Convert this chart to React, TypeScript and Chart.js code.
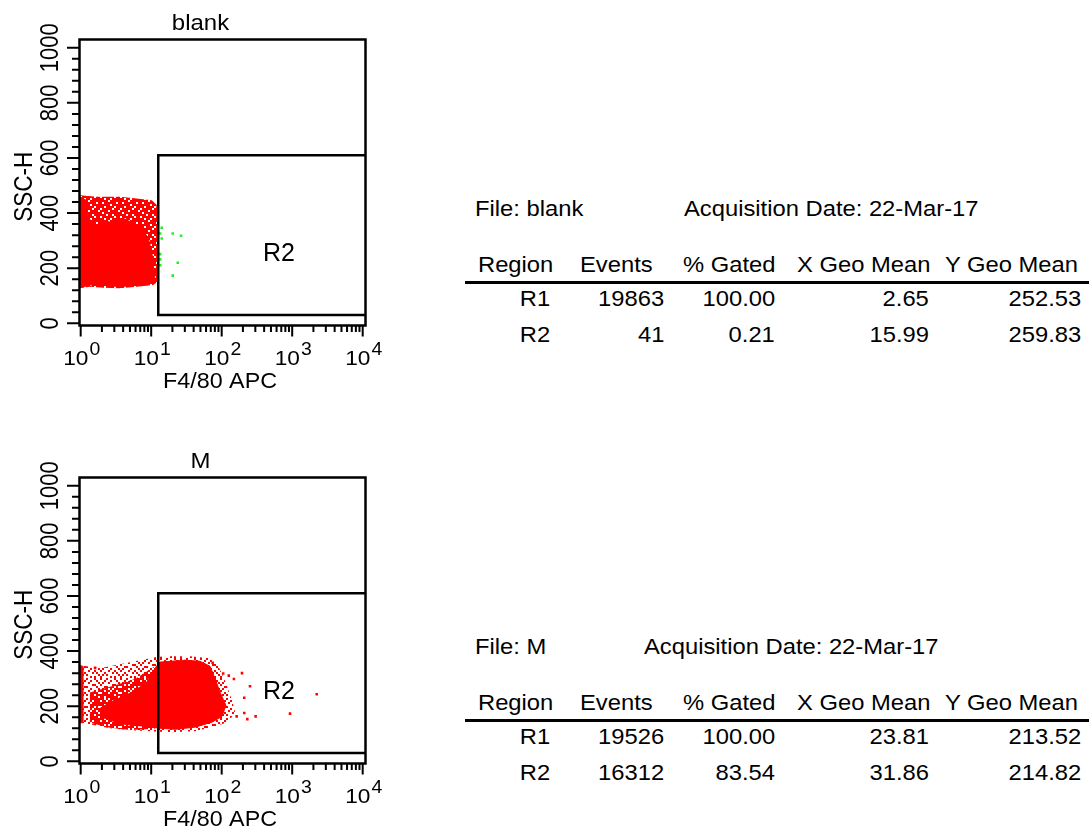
import React, { useEffect, useRef } from "react";
import { Chart, registerables } from "chart.js";
Chart.register(...registerables);

// ---------------- data ----------------
const panelTitles = ["blank", "M"];
const xAxisTitle = "F4/80 APC";
const yAxisTitle = "SSC-H";
const gateName = "R2";
const acquisitionDate = "22-Mar-17";

const xMin = 0.962;
const xMax = 10960;
const yMin = -8;
const yMax = 1030;
const xTickExponents = [0, 1, 2, 3, 4];
const yTickValues = [0, 200, 400, 600, 800, 1000];
const yMinorStep = 40;

// R2 gate (F4/80 >= 12.6, SSC 30..610)
const gateXs = [xMax, 12.6, 12.6, xMax];
const gateYs = [610, 610, 30, 30];
const gateLabelAt = [385, 225];

// blank: event cloud outline, dense core, R2 events
const blankSpeckleX = [0.977, 1.69, 3.61, 6.23, 10.2, 12.0, 12.4, 12.4, 10.7, 6.23, 3.61, 2.09, 1.35, 0.977];
const blankSpeckleY = [465, 459, 459, 453, 447, 429, 381, 151, 139, 133, 127, 129, 133, 127];
const blankCoreX = [0.977, 1.19, 1.28, 1.69, 2.09, 2.9, 4.02, 5.57, 7.33, 9.1, 10.2, 10.7, 11.3, 9.1, 6.23, 3.61, 2.09, 1.35, 1.09, 0.977];
const blankCoreY = [459, 447, 381, 357, 375, 363, 381, 363, 345, 308, 260, 211, 163, 145, 139, 133, 139, 139, 133, 133];
const blankR2X = [14.1, 20.2, 26.5, 14.1, 23.8, 20.2, 13.4, 13.4, 13.4, 13.4];
const blankR2Y = [347, 326, 318, 308, 220, 173, 326, 251, 232, 211];

// M: event cloud outline, mid-density wedge, dense core, left edge pile-up, outliers
const mSpeckleX = [0.977, 1.88, 3.61, 6.94, 11.3, 15.7, 35.5, 68.2, 88.5, 111, 140, 155, 123, 80.4, 41.8, 18.5, 9.62, 5.0, 2.6, 1.35, 0.977];
const mSpeckleY = [349, 338, 352, 367, 378, 381, 381, 374, 349, 294, 222, 178, 142, 127, 109, 105, 109, 113, 120, 134, 142];
const mMidX = [1.35, 3.0, 6.0, 11.3, 11.3, 5.0, 2.6, 1.35];
const mMidY = [250, 275, 300, 345, 118, 114, 122, 140];
const mCoreX = [1.88, 2.6, 5.0, 8.44, 11.3, 13.3, 30.1, 49.2, 68.2, 80.4, 94.6, 115, 101, 72.8, 41.8, 21.8, 13.3, 8.17, 4.25, 2.6, 1.88];
const mCoreY = [192, 214, 247, 283, 338, 360, 367, 363, 345, 301, 251, 203, 163, 142, 124, 116, 120, 127, 134, 149, 163];
const mEdgeX = [0.962, 1.07, 1.07, 0.962];
const mEdgeY = [345, 345, 140, 140];
const mOutX = [74.5, 105, 126, 149, 194, 252, 209, 163, 209, 231, 303, 931, 2228, 1.6];
const mOutY = [358, 319, 311, 299, 320, 272, 231, 163, 175, 153, 163, 173, 243, 339];

// statistics tables
const tableHeaders = ["Region", "Events", "% Gated", "X Geo Mean", "Y Geo Mean"];
const regions = ["R1", "R2"];
const blankEvents = ["19863", "41"];
const blankGated = ["100.00", "0.21"];
const blankXGeo = ["2.65", "15.99"];
const blankYGeo = ["252.53", "259.83"];
const mEvents = ["19526", "16312"];
const mGated = ["100.00", "83.54"];
const mXGeo = ["23.81", "31.86"];
const mYGeo = ["213.52", "214.82"];

// ---------------- style ----------------
const FONT = '"Liberation Sans", Arial, Helvetica, sans-serif';
const RED = "#ff0000";
const GREEN = "#22ee22";
const denseRows = [
  "1111011111",
  "1011111101",
  "1111101111",
  "1101111011",
  "0111110111",
  "1111011110",
  "1011111111",
  "1110110111",
  "0111111011",
  "1101101111",
];
const midRows = [
  "1101011011",
  "0110110101",
  "1011101110",
  "1101010111",
  "0110111010",
  "1011010111",
  "1101101101",
  "0111010110",
  "1010111011",
  "1101101010",
];
const sparseRows = [
  "1001000100",
  "0010010010",
  "0100100001",
  "1000001100",
  "0011000010",
  "0100010001",
  "1000100100",
  "0010001010",
  "0101000001",
  "1000010100",
];

const pts = (xs: number[], ys: number[]) => xs.map((x, i) => ({ x, y: ys[i] }));

function makePattern(rows: string[]) {
  const cell = 2;
  const c = document.createElement("canvas");
  c.width = rows[0].length * cell;
  c.height = rows.length * cell;
  const g = c.getContext("2d")!;
  g.fillStyle = RED;
  rows.forEach((r, i) =>
    r.split("").forEach((ch, j) => {
      if (ch === "1") g.fillRect(j * cell, i * cell, cell, cell);
    })
  );
  return g.createPattern(c, "repeat")!;
}

function drawText(ctx: CanvasRenderingContext2D, text: string, x: number, y: number, size: number, sx: number, align: CanvasTextAlign) {
  ctx.save();
  ctx.translate(x, y);
  ctx.scale(sx, 1);
  ctx.font = `${size}px ${FONT}`;
  ctx.textAlign = align;
  ctx.textBaseline = "alphabetic";
  ctx.fillText(text, 0, 0);
  ctx.restore();
}

function drawRotated(ctx: CanvasRenderingContext2D, text: string, x: number, y: number, size: number) {
  ctx.save();
  ctx.translate(x, y);
  ctx.rotate(-Math.PI / 2);
  ctx.scale(1, 1.14);
  ctx.font = `${size}px ${FONT}`;
  ctx.textAlign = "center";
  ctx.textBaseline = "alphabetic";
  ctx.fillText(text, 0, 0);
  ctx.restore();
}

function axesPlugin(title: string) {
  return {
    id: "flowAxes",
    afterDraw(chart: any) {
      const ctx: CanvasRenderingContext2D = chart.ctx;
      const a = chart.chartArea;
      const xs = chart.scales.x;
      const ys = chart.scales.y;
      ctx.save();
      ctx.strokeStyle = "#000";
      ctx.fillStyle = "#000";
      ctx.lineWidth = 2;
      ctx.beginPath();
      for (let v = 0; v <= 1000; v += yMinorStep) {
        const py = ys.getPixelForValue(v);
        const major = v % 200 === 0;
        ctx.moveTo(a.left, py);
        ctx.lineTo(a.left - (major ? 12.5 : 7.5), py);
      }
      for (const e of xTickExponents) {
        for (let m = 1; m <= 9; m++) {
          if (e === xTickExponents[xTickExponents.length - 1] && m > 1) break;
          const px = xs.getPixelForValue(m * Math.pow(10, e));
          ctx.moveTo(px, a.bottom);
          ctx.lineTo(px, a.bottom + (m === 1 ? 11 : 6.5));
        }
      }
      ctx.stroke();
      ctx.lineWidth = 2.5;
      ctx.strokeRect(a.left, a.top, a.right - a.left, a.bottom - a.top);

      // x tick labels 10^n
      for (const e of xTickExponents) {
        const px = xs.getPixelForValue(Math.pow(10, e));
        ctx.font = `21px ${FONT}`;
        const w10 = ctx.measureText("10").width * 1.08;
        ctx.font = `18px ${FONT}`;
        const we = ctx.measureText(String(e)).width * 1.08;
        const sx = px - (w10 + 1 + we) / 2 + 1;
        drawText(ctx, "10", sx, a.bottom + 39.5, 21, 1.08, "left");
        drawText(ctx, String(e), sx + w10 + 1, a.bottom + 29.5, 18, 1.08, "left");
      }
      // y tick labels (rotated)
      for (const v of yTickValues) {
        drawRotated(ctx, String(v), 58.3, ys.getPixelForValue(v), 22);
      }
      drawRotated(ctx, yAxisTitle, 31.7, 186.7, 22.5);
      drawText(ctx, title, 200.5, 30, 22, 1.09, "center");
      drawText(ctx, xAxisTitle, 220, a.bottom + 62.5, 22, 1.06, "center");
      // gate name
      ctx.font = `25px ${FONT}`;
      ctx.textAlign = "left";
      ctx.fillText(gateName, xs.getPixelForValue(gateLabelAt[0]), ys.getPixelForValue(gateLabelAt[1]));
      ctx.restore();
    },
  };
}

type Zone = { xs: number[]; ys: number[]; rows?: string[] };
type Panel = {
  title: string;
  height: number;
  zones: Zone[]; // drawn bottom to top
  dots: { xs: number[]; ys: number[]; color: string }[];
};

function makeChart(canvas: HTMLCanvasElement, p: Panel) {
  const n = p.zones.length;
  const datasets: any[] = [
    {
      data: pts(gateXs, gateYs),
      showLine: true,
      borderColor: "#000",
      borderWidth: 2.5,
      pointRadius: 0,
      fill: false,
      tension: 0,
      order: 0,
      clip: false,
    },
    ...p.dots.map((d) => ({
      data: pts(d.xs, d.ys),
      showLine: false,
      pointStyle: "rect",
      pointRadius: 1.8,
      backgroundColor: d.color,
      borderColor: d.color,
      borderWidth: 0,
      order: 1,
    })),
    ...p.zones.map((z, i) => ({
      data: pts(z.xs, z.ys),
      showLine: true,
      borderColor: z.rows ? "rgba(0,0,0,0)" : RED,
      borderWidth: 1,
      backgroundColor: z.rows ? makePattern(z.rows) : RED,
      fill: "shape",
      tension: 0,
      pointRadius: 0,
      order: 2 + (n - i),
    })),
  ];
  return new Chart(canvas, {
    type: "line",
    data: { datasets },
    options: {
      responsive: false,
      animation: false,
      events: [],
      layout: { padding: { left: 79.5, top: 39.5, right: 34.5, bottom: p.height - 325.5 } },
      plugins: { legend: { display: false }, tooltip: { enabled: false } },
      scales: {
        x: { type: "logarithmic", min: xMin, max: xMax, display: false },
        y: { type: "linear", min: yMin, max: yMax, display: false },
      },
    } as any,
    plugins: [axesPlugin(p.title)],
  });
}

const blankPanel: Panel = {
  title: panelTitles[0],
  height: 420,
  zones: [
    { xs: blankSpeckleX, ys: blankSpeckleY, rows: denseRows },
    { xs: blankCoreX, ys: blankCoreY },
  ],
  dots: [{ xs: blankR2X, ys: blankR2Y, color: GREEN }],
};
const mPanel: Panel = {
  title: panelTitles[1],
  height: 391,
  zones: [
    { xs: mSpeckleX, ys: mSpeckleY, rows: sparseRows },
    { xs: mMidX, ys: mMidY, rows: midRows },
    { xs: mCoreX, ys: mCoreY },
    { xs: mEdgeX, ys: mEdgeY },
  ],
  dots: [{ xs: mOutX, ys: mOutY, color: RED }],
};

function Txt(props: { x: number; base: number; align?: "left" | "right"; children: React.ReactNode }) {
  const style: any = {
    position: "absolute",
    top: props.base - 18.6,
    fontSize: 22,
    lineHeight: "22px",
    whiteSpace: "nowrap",
    color: "#000",
    transform: "scaleX(1.08)",
  };
  if ((props.align || "left") === "left") {
    style.left = props.x;
    style.transformOrigin = "left center";
  } else {
    style.right = 1089 - props.x;
    style.transformOrigin = "right center";
  }
  return <div style={style}>{props.children}</div>;
}

const headerLefts = [478, 580, 683, 797, 945];
const valueRights = [550, 664, 775, 929, 1081];

function StatsTable(props: { dy: number; file: string; dateX: number; cols: string[][] }) {
  const { dy } = props;
  const rowBases = [307, 343];
  return (
    <>
      <Txt x={475} base={217 + dy}>{`File: ${props.file}`}</Txt>
      <Txt x={props.dateX} base={217 + dy}>{`Acquisition Date: ${acquisitionDate}`}</Txt>
      {tableHeaders.map((h, i) => (
        <Txt key={h} x={headerLefts[i]} base={273 + dy}>{h}</Txt>
      ))}
      <div style={{ position: "absolute", left: 465, top: 281 + dy, width: 624, height: 3, background: "#000" }} />
      {regions.map((r, ri) => (
        <React.Fragment key={r}>
          <Txt x={valueRights[0]} base={rowBases[ri] + dy} align="right">{r}</Txt>
          {props.cols.map((col, ci) => (
            <Txt key={ci} x={valueRights[ci + 1]} base={rowBases[ri] + dy} align="right">{col[ri]}</Txt>
          ))}
        </React.Fragment>
      ))}
    </>
  );
}

export default function App() {
  const topRef = useRef<HTMLCanvasElement>(null);
  const botRef = useRef<HTMLCanvasElement>(null);
  useEffect(() => {
    const c1 = makeChart(topRef.current!, blankPanel);
    const c2 = makeChart(botRef.current!, mPanel);
    return () => {
      c1.destroy();
      c2.destroy();
    };
  }, []);
  return (
    <div style={{ position: "absolute", left: 0, top: 0, width: 1089, height: 829, overflow: "hidden", background: "#fff", fontFamily: FONT }}>
      <canvas ref={topRef} width={400} height={420} style={{ position: "absolute", left: 0, top: 0 }} />
      <canvas ref={botRef} width={400} height={391} style={{ position: "absolute", left: 0, top: 438 }} />
      <StatsTable dy={0} file={panelTitles[0]} dateX={684} cols={[blankEvents, blankGated, blankXGeo, blankYGeo]} />
      <StatsTable dy={438} file={panelTitles[1]} dateX={644} cols={[mEvents, mGated, mXGeo, mYGeo]} />
    </div>
  );
}
